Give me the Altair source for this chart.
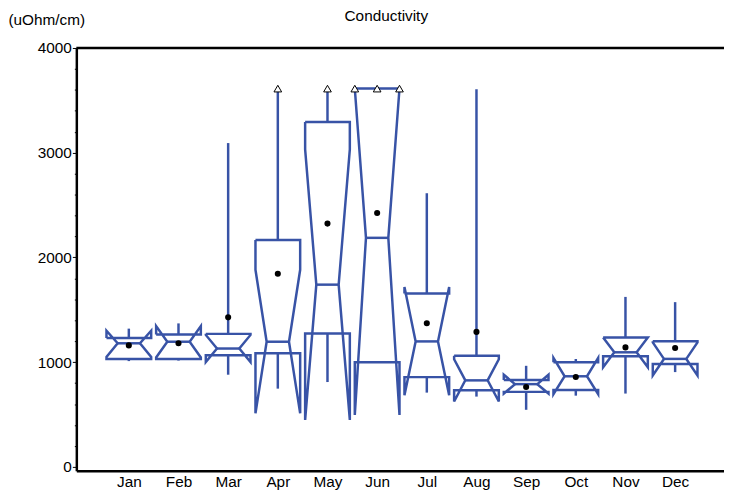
import altair as alt
import pandas as pd

# ---------------- data ----------------
months = ["Jan", "Feb", "Mar", "Apr", "May", "Jun",
          "Jul", "Aug", "Sep", "Oct", "Nov", "Dec"]
q1 = [1030, 1030, 1065, 1084, 1274, 1000, 857, 731, 716, 735, 1056, 983]
q3 = [1230, 1265, 1270, 2166, 3294, 3700, 1655, 1062, 830, 1000, 1236, 1200]
median = [1180, 1195, 1130, 1195, 1740, 2187, 1198, 826, 790, 865, 1094, 1031]
notch_lo = [1050, 1045, 1000, 511, 448, 495, 684, 624, 700, 695, 952, 873]
notch_hi = [1300, 1345, 1260, 1882, 3032, 3879, 1718, 1028, 880, 1040, 1236, 1189]
whisk_lo = [1010, 1015, 880, 747, 810, 1000, 709, 671, 545, 680, 700, 905]
whisk_hi = [1320, 1370, 3092, 3700, 3700, 3700, 2613, 3605, 965, 1030, 1623, 1573]
mean = [1160, 1180, 1428, 1844, 2323, 2424, 1371, 1289, 763, 858, 1141, 1135]

y_ticks = list(range(0, 4001, 200))
Y_MIN, Y_MAX = -38, 4000
CLIP = 3612          # values above this are drawn at the edge with a triangle
BOX_HALF = 0.45      # half box width (in month units)
NOTCH_HALF = 0.225   # half width at the median (notch waist)

BLUE = "#3853a6"
FONT = "Liberation Sans"
FS = 15.5


def clip(v):
    return min(v, CLIP)


# ---------------- build tables ----------------
outline_rows, whisker_rows, median_rows, mean_rows, tri_rows = [], [], [], [], []
for i, m in enumerate(months):
    c = i + 1
    L, R = c - BOX_HALF, c + BOX_HALF
    nl, nr = c - NOTCH_HALF, c + NOTCH_HALF
    pts = [(L, q3[i]), (L, notch_hi[i]), (nl, median[i]), (L, notch_lo[i]),
           (L, q1[i]), (R, q1[i]), (R, notch_lo[i]), (nr, median[i]),
           (R, notch_hi[i]), (R, q3[i]), (L, q3[i])]
    for k, (px, py) in enumerate(pts):
        outline_rows.append({"month": m, "k": k, "x": px, "y": clip(py)})
    whisker_rows.append({"month": m, "x": c, "y": whisk_lo[i], "y2": q1[i]})
    whisker_rows.append({"month": m, "x": c, "y": clip(q3[i]), "y2": clip(whisk_hi[i])})
    median_rows.append({"month": m, "x": nl, "x2": nr, "y": median[i]})
    mean_rows.append({"month": m, "x": c, "y": mean[i]})
    if whisk_hi[i] > CLIP:
        tri_rows.append({"month": m, "x": c, "y": CLIP})
    if q3[i] > CLIP:
        tri_rows.append({"month": m, "x": L, "y": CLIP})
        tri_rows.append({"month": m, "x": R, "y": CLIP})

outline = pd.DataFrame(outline_rows)
whiskers = pd.DataFrame(whisker_rows)
medians = pd.DataFrame(median_rows)
means = pd.DataFrame(mean_rows)
tris = pd.DataFrame(tri_rows)

# ---------------- scales / axes ----------------
X_MIN = -0.057
X_MAX = 12.984
xscale = alt.Scale(domain=[X_MIN, X_MAX], nice=False, zero=False)
yscale = alt.Scale(domain=[Y_MIN, Y_MAX], nice=False, zero=False)

month_expr = "[" + ",".join("'%s'" % m for m in months) + "][datum.value - 1]"

x_axis = alt.Axis(values=list(range(1, 13)), labelExpr=month_expr, title=None,
                  grid=False, ticks=False, domainColor="black", domainWidth=2.5,
                  labelFont=FONT, labelFontSize=FS, labelColor="black",
                  labelPadding=4, labelFlush=False, labelOverlap=False)

y_axis = alt.Axis(values=y_ticks,
                  labelExpr="datum.value % 1000 == 0 ? format(datum.value, 'd') : ''",
                  tickSize={"condition": {"test": "datum.value % 1000 == 0", "value": 4},
                            "value": 2},
                  tickColor="black", tickWidth=1,
                  grid=False, domainColor="black", domainWidth=2.5,
                  labelFont=FONT, labelFontSize=FS, labelColor="black",
                  labelPadding=1, labelOverlap=False, labelFlush=False,
                  title="(uOhm/cm)", titleAngle=0, titleAlign="left",
                  titleBaseline="middle", titleX=-69, titleY=-29,
                  titleFont=FONT, titleFontSize=FS, titleFontWeight="normal",
                  titleColor="black")

X = alt.X("x:Q", scale=xscale, axis=x_axis)
X2 = alt.X2("x2:Q")
Y = alt.Y("y:Q", scale=yscale, axis=y_axis)
Y2 = alt.Y2("y2:Q")

boxes = alt.Chart(outline).mark_line(color=BLUE, strokeWidth=2.5).encode(
    x=X, y=Y, detail="month:N", order="k:Q")

whisk = alt.Chart(whiskers).mark_rule(color=BLUE, strokeWidth=2.5).encode(
    x=X, y=Y, y2=Y2)

med = alt.Chart(medians).mark_rule(color=BLUE, strokeWidth=2.5).encode(
    x=X, x2=X2, y=Y)

dots = alt.Chart(means).mark_circle(color="black", size=38, opacity=1).encode(
    x=X, y=Y)

triangles = alt.Chart(tris).mark_point(shape="triangle-up", size=60, filled=True,
                                       fill="white", stroke="black",
                                       strokeWidth=1, opacity=1).encode(
    x=X, y=Y)

# top frame line at the top of the value range
top_frame = alt.Chart(pd.DataFrame({"y": [Y_MAX]})).mark_rule(
    color="black", strokeWidth=2.5).encode(y=Y)

chart = alt.layer(boxes, whisk, med, dots, triangles, top_frame).properties(
    width=654, height=427,
    title=alt.TitleParams("Conductivity", font=FONT, fontSize=FS,
                          fontWeight="normal", color="black", anchor="middle",
                          frame="group", dy=16, dx=-14),
    autosize=alt.AutoSizeParams(type="none"),
    padding={"left": 69, "top": 38, "right": 0, "bottom": 20},
).configure_view(stroke=None).configure(background="white")

chart.save("out.html", embed_options={"renderer": "svg", "actions": False})
